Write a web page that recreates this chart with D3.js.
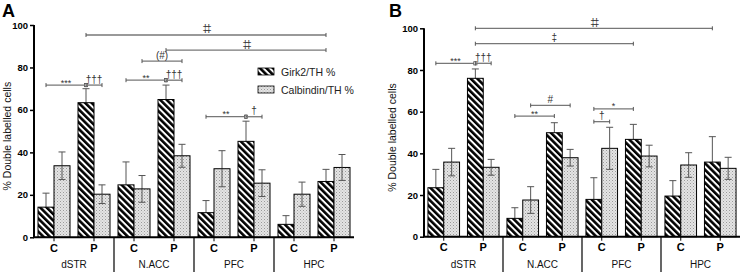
<!DOCTYPE html>
<html>
<head>
<meta charset="utf-8">
<script src="https://cdn.jsdelivr.net/npm/d3@7"></script>
<style>
  body { margin: 0; background: #fff; }
  svg { display: block; font-family: "Liberation Sans", Arial, sans-serif; }
  .tick text { font-weight: bold; font-size: 9.5px; }
</style>
</head>
<body>
<div id="chart"></div>
<script>
// categories
var regions = ["dSTR", "N.ACC", "PFC", "HPC"];
var groups = ["C", "P"];
var seriesNames = ["Girk2/TH %", "Calbindin/TH %"];
var yTicks = [0, 20, 40, 60, 80, 100];

// panel A values (order: dSTR C, dSTR P, N.ACC C, N.ACC P, PFC C, PFC P, HPC C, HPC P)
var girk2A = [14.2, 63.4, 24.7, 64.9, 11.6, 45.2, 6.1, 26.3];
var girk2ErrA = [6.6, 6.6, 10.8, 6.8, 5.7, 9.5, 4.1, 5.7];
var calbA = [33.7, 20.3, 22.8, 38.4, 32.3, 25.5, 20.3, 32.9];
var calbErrA = [6.5, 4.4, 6.3, 5.4, 8.5, 6.3, 5.7, 6.1];

// panel B values
var girk2B = [23.5, 76.0, 8.8, 49.9, 17.9, 46.7, 19.5, 35.8];
var girk2ErrB = [8.8, 4.5, 5.1, 4.8, 10.4, 7.2, 7.4, 12.2];
var calbB = [35.8, 33.3, 17.6, 37.9, 42.4, 38.7, 34.4, 32.8];
var calbErrB = [6.6, 3.8, 6.4, 4.0, 10.1, 5.2, 5.9, 5.3];

// significance brackets: [from bar, from series, to bar, to series, y level, label, marker at end]
var sigA = [
  [1, 0, 7, 0, 95.3, "\u2021\u2021", false],
  [3, 0, 7, 0, 88.2, "\u2021\u2021", false],
  [2, 1, 3, 1, 83.0, "(#)", false],
  [2, 0, 3, 0, 74.0, "**", true],
  [3, 0, 3, 1, 74.0, "\u2020\u2020\u2020", false],
  [0, 0, 1, 0, 71.7, "***", true],
  [1, 0, 1, 1, 71.7, "\u2020\u2020\u2020", false],
  [4, 0, 5, 0, 56.8, "**", true],
  [5, 0, 5, 1, 56.8, "\u2020", false]
];
var sigB = [
  [1, 0, 7, 0, 100, "\u2021\u2021", false],
  [1, 0, 5, 0, 92.6, "\u2021", false],
  [0, 0, 1, 0, 83.2, "***", true],
  [1, 0, 1, 1, 83.2, "\u2020\u2020\u2020", false],
  [2, 1, 3, 1, 63.0, "#", false],
  [2, 0, 3, 0, 57.9, "**", false],
  [4, 0, 5, 0, 61.3, "*", false],
  [4, 0, 4, 1, 55.2, "\u2020", false]
];

var W = 741, H = 275;
var svg = d3.select("#chart").append("svg").attr("width", W).attr("height", H);

// fill patterns
var defs = svg.append("defs");
var hatch = defs.append("pattern")
  .attr("id", "hatch")
  .attr("patternUnits", "userSpaceOnUse")
  .attr("width", 4.6).attr("height", 4.6)
  .attr("patternTransform", "rotate(-45)");
hatch.append("rect").attr("width", 4.6).attr("height", 4.6).attr("fill", "#fff");
hatch.append("rect").attr("width", 2.6).attr("height", 4.6).attr("fill", "#000");

var dots = defs.append("pattern")
  .attr("id", "dots")
  .attr("patternUnits", "userSpaceOnUse")
  .attr("width", 3).attr("height", 3);
dots.append("rect").attr("width", 3).attr("height", 3).attr("fill", "#e4e4e4");
dots.append("rect").attr("x", 0).attr("y", 0).attr("width", 1).attr("height", 1).attr("fill", "#9a9a9a");
dots.append("rect").attr("x", 1.5).attr("y", 1.5).attr("width", 1).attr("height", 1).attr("fill", "#b5b5b5");

var fills = ["url(#hatch)", "url(#dots)"];

function panel(opts) {
  var g = svg.append("g");
  var bars = [];
  regions.forEach(function(r) { groups.forEach(function(c) { bars.push(r + "|" + c); }); });

  var x = d3.scaleBand().domain(bars).range([opts.x0, opts.x1]);
  var xs = d3.scaleBand().domain([0, 1]).range([0, x.bandwidth()]).paddingOuter(0.25).paddingInner(0);
  var y = d3.scaleLinear().domain([0, 100]).range([opts.yBottom, opts.yTop]);

  function barCenter(i, s) { return x(bars[i]) + xs(s) + xs.bandwidth() / 2; }

  var series = [[opts.girk2, opts.girk2Err], [opts.calb, opts.calbErr]];

  series.forEach(function(ser, s) {
    var vals = ser[0], errs = ser[1];
    // error bars (behind the bars)
    var eg = g.append("g").attr("stroke", "#555").attr("stroke-width", 1);
    vals.forEach(function(v, i) {
      var cx = barCenter(i, s);
      var lo = s === 1 ? v - errs[i] : v;
      eg.append("line").attr("x1", cx).attr("x2", cx).attr("y1", y(lo)).attr("y2", y(v + errs[i]));
      eg.append("line").attr("x1", cx - 3.5).attr("x2", cx + 3.5).attr("y1", y(v + errs[i])).attr("y2", y(v + errs[i]));
      if (s === 1) eg.append("line").attr("x1", cx - 3.5).attr("x2", cx + 3.5).attr("y1", y(lo)).attr("y2", y(lo));
    });
  });

  series.forEach(function(ser, s) {
    g.selectAll(null).data(ser[0]).enter().append("rect")
      .attr("x", function(d, i) { return x(bars[i]) + xs(s); })
      .attr("y", function(d) { return y(d); })
      .attr("width", xs.bandwidth())
      .attr("height", function(d) { return y(0) - y(d); })
      .attr("fill", fills[s])
      .attr("stroke", "#000")
      .attr("stroke-width", 1);
  });

  // redraw the visible part of Calbindin error bars over the dotted fill
  var eg2 = g.append("g").attr("stroke", "#555").attr("stroke-width", 1);
  opts.calb.forEach(function(v, i) {
    var cx = barCenter(i, 1);
    var lo = v - opts.calbErr[i];
    eg2.append("line").attr("x1", cx).attr("x2", cx).attr("y1", y(lo)).attr("y2", y(v));
    eg2.append("line").attr("x1", cx - 3.5).attr("x2", cx + 3.5).attr("y1", y(lo)).attr("y2", y(lo));
  });

  // y axis
  var yAxis = d3.axisLeft(y).tickValues(yTicks).tickSize(4).tickPadding(2);
  var ya = g.append("g").attr("transform", "translate(" + opts.x0 + ",0)").call(yAxis);
  ya.select(".domain").attr("stroke-width", 2).attr("d", "M0," + y(0) + "V" + y(100));
  ya.selectAll(".tick line").attr("stroke-width", 1.5);
  ya.selectAll(".tick text").attr("fill", "#000");

  // x axis
  var xAxis = d3.axisBottom(x).tickSize(4).tickFormat(function(d) { return d.split("|")[1]; }).tickPadding(3);
  var xa = g.append("g").attr("transform", "translate(0," + y(0) + ")").call(xAxis);
  xa.select(".domain").attr("stroke-width", 2).attr("d", "M" + (opts.x0 - 1) + ",0H" + opts.x1);
  xa.selectAll(".tick text").style("font-size", "11px").style("font-weight", "bold").attr("fill", "#000");

  // region separators and labels
  regions.forEach(function(r, k) {
    var left = x(r + "|C"), right = x(r + "|P") + x.bandwidth();
    if (k > 0) {
      g.append("line").attr("x1", left).attr("x2", left)
        .attr("y1", y(0)).attr("y2", 272).attr("stroke", "#000").attr("stroke-width", 1.2);
    }
    g.append("text").attr("x", (left + right) / 2).attr("y", 268)
      .attr("text-anchor", "middle").style("font-size", "10px").attr("fill", "#111").text(r);
  });

  // y label
  g.append("text")
    .attr("transform", "translate(" + opts.labelX + "," + (y(50) + 5) + ") rotate(-90)")
    .attr("text-anchor", "middle").style("font-size", "10.5px").attr("fill", "#111")
    .text("% Double labelled cells");

  // panel letter
  g.append("text").attr("x", opts.letterX).attr("y", 17)
    .style("font-size", "18px").style("font-weight", "bold").text(opts.letter);

  // significance brackets
  var sg = g.append("g");
  opts.sig.forEach(function(s) {
    var xa1 = barCenter(s[0], s[1]), xa2 = barCenter(s[2], s[3]), yy = y(s[4]);
    sg.append("line").attr("x1", xa1).attr("x2", xa2).attr("y1", yy).attr("y2", yy)
      .attr("stroke", "#777").attr("stroke-width", 1.3);
    [xa1, xa2].forEach(function(xx) {
      sg.append("line").attr("x1", xx).attr("x2", xx).attr("y1", yy - 2).attr("y2", yy + 2)
        .attr("stroke", "#555").attr("stroke-width", 1);
    });
    if (s[6]) {
      sg.append("rect").attr("x", xa2 - 1.6).attr("y", yy - 1.6).attr("width", 3.2).attr("height", 3.2)
        .attr("fill", "#fff").attr("stroke", "#555").attr("stroke-width", 0.8);
    }
    var isStar = s[5].indexOf("*") >= 0;
    sg.append("text").attr("x", (xa1 + xa2) / 2).attr("y", isStar ? yy + 0.5 : yy - 2.5)
      .attr("text-anchor", "middle")
      .style("font-size", isStar ? "9px" : "10px")
      .style("letter-spacing", s[5].indexOf("\u2021\u2021") >= 0 ? "-2px" : "0px")
      .attr("fill", "#333").text(s[5]);
  });

  return g;
}

panel({ x0: 34, x1: 354, yBottom: 237.3, yTop: 25, labelX: 11, letter: "A", letterX: 2, letterX2: 0,
  girk2: girk2A, girk2Err: girk2ErrA, calb: calbA, calbErr: calbErrA, sig: sigA });
panel({ x0: 424, x1: 740, yBottom: 236.7, yTop: 28.3, labelX: 396, letter: "B", letterX: 389,
  girk2: girk2B, girk2Err: girk2ErrB, calb: calbB, calbErr: calbErrB, sig: sigB });

// legend
var legend = svg.append("g").attr("transform", "translate(258,68)");
seriesNames.forEach(function(name, i) {
  legend.append("rect").attr("x", 0).attr("y", i * 18).attr("width", 16).attr("height", 7)
    .attr("fill", fills[i]).attr("stroke", "#000").attr("stroke-width", 0.8);
  legend.append("text").attr("x", 23).attr("y", i * 18 + 7.5)
    .style("font-size", "10.5px").attr("fill", "#222").text(name);
});
</script>
</body>
</html>
